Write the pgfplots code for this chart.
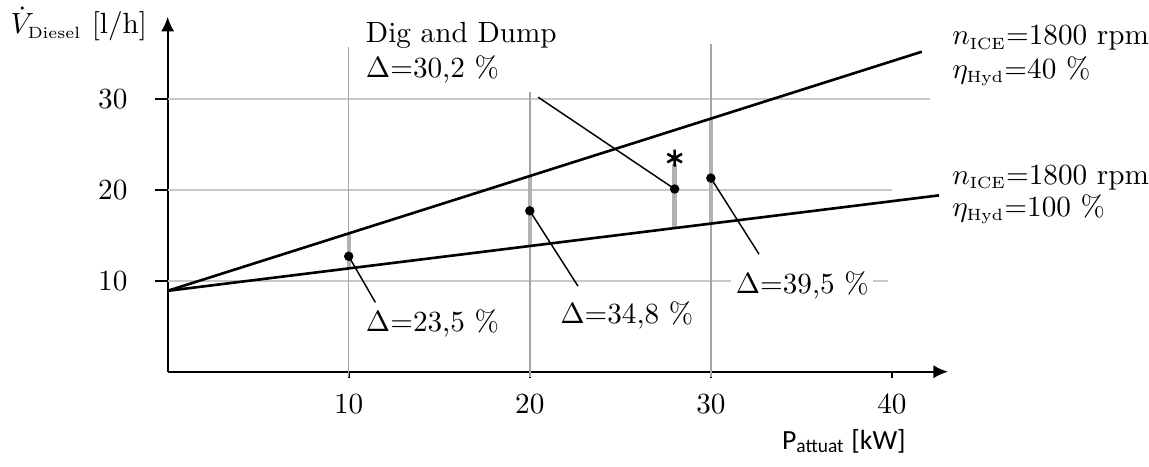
\documentclass[border=0pt]{standalone}
\usepackage{fontspec}
\usepackage{pgfplots}
\pgfplotsset{compat=1.18}
\usetikzlibrary{arrows.meta}
\newfontfamily\carlito{Carlito}
\definecolor{gridh}{RGB}{200,200,200}
\definecolor{gridv}{RGB}{165,165,165}
\definecolor{barg}{RGB}{178,178,178}
\newcommand{\sub}[1]{\mbox{\fontsize{5.6}{6}\selectfont #1}}
\begin{document}
\begin{tikzpicture}
\begin{axis}[
  x=6.2pt, y=3.113pt,
  xmin=0, xmax=43.1, ymin=0, ymax=39.05,
  axis lines=left,
  axis line style={line width=0.7pt, -{Latex[length=5pt,width=4.5pt]}},
  clip=false,
  xtick={10,20,30,40}, ytick={10,20,30},
  tick align=outside,
  xtick style={black, line width=0.6pt, /pgfplots/major tick length=2pt},
  ytick style={black, line width=0.6pt, /pgfplots/major tick length=4.4pt},
  xticklabel style={yshift=0pt},
  yticklabel style={xshift=-6pt},
]
% bounding box
\path (axis cs:-9.26,-10.43) rectangle (axis cs:53.97,40.89);
% grid lines
\addplot[gridh, line width=0.5pt] coordinates {(0,30) (42.1,30)};
\addplot[gridh, line width=0.5pt] coordinates {(0,20) (40.0,20)};
\addplot[gridh, line width=0.5pt] coordinates {(0,10) (39.8,10)};
\addplot[gridv, line width=0.5pt] coordinates {(10,-0.6) (10,35.7)};
\addplot[gridv, line width=0.5pt] coordinates {(20,-0.6) (20,30.8)};
\addplot[gridv, line width=0.5pt] coordinates {(30,-0.6) (30,36.1)};
% gray bars
\addplot[barg, line width=1.5pt] coordinates {(10,11.36) (10,15.21)};
\addplot[barg, line width=1.5pt] coordinates {(20,13.82) (20,21.52)};
\addplot[barg, line width=1.5pt] coordinates {(28,15.79) (28,22.8)};
\addplot[barg, line width=1.5pt] coordinates {(30,16.28) (30,27.83)};
% main lines
\addplot[black, line width=0.9pt] coordinates {(0,8.9) (41.65,35.2)};
\addplot[black, line width=0.9pt] coordinates {(0,8.9) (42.6,19.4)};
% leader lines
\addplot[black, line width=0.5pt] coordinates {(10,12.7) (11.47,7.63)};
\addplot[black, line width=0.5pt] coordinates {(20,17.7) (22.66,9.42)};
\addplot[black, line width=0.5pt] coordinates {(30,21.3) (32.66,12.93)};
\addplot[black, line width=0.5pt] coordinates {(28,20.1) (20.46,30.2)};
% points
\addplot[only marks, mark=*, mark size=1.4pt, black] coordinates {(10,12.7) (20,17.7) (28,20.1) (30,21.3)};
\addplot[only marks, mark=asterisk, mark size=2.9pt, black, mark options={line width=0.9pt}] coordinates {(28,23.5)};
% labels
\node[anchor=west, inner sep=0pt] at (axis cs:10.92,5.36) {$\Delta$=23,5 \%};
\node[anchor=west, inner sep=0pt] at (axis cs:21.65,6.2) {$\Delta$=34,8 \%};
\node[anchor=west, fill=white, inner xsep=1.5pt, inner ysep=1pt] at (axis cs:31.1,9.5) {$\Delta$=39,5 \%\hspace{4pt}};
\node[anchor=base west, inner sep=0pt] at (axis cs:10.92,36.2) {Dig and Dump};
\node[anchor=base west, inner sep=0pt] at (axis cs:10.92,32.4) {$\Delta$=30,2 \%};
\node[anchor=base west, inner sep=0pt] at (axis cs:43.3,35.95) {$n_{\sub{ICE}}$=1800 rpm};
\node[anchor=base west, inner sep=0pt] at (axis cs:43.3,32.3) {$\eta_{\sub{Hyd}}$=40 \%};
\node[anchor=base west, inner sep=0pt] at (axis cs:43.3,20.6) {$n_{\sub{ICE}}$=1800 rpm};
\node[anchor=base west, inner sep=0pt] at (axis cs:43.3,17.1) {$\eta_{\sub{Hyd}}$=100 \%};
\node[anchor=base west, inner sep=0pt] at (axis cs:-8.7,37.15) {$\dot V_{\sub{Diesel}}$\hspace{3.5pt}[l/h]};
\node[anchor=base west, inner sep=0pt] at (axis cs:33.9,-8.5) {\carlito\fontsize{9.5}{11}\selectfont P\textsubscript{attuat} [kW]};
\end{axis}
\end{tikzpicture}
\end{document}
